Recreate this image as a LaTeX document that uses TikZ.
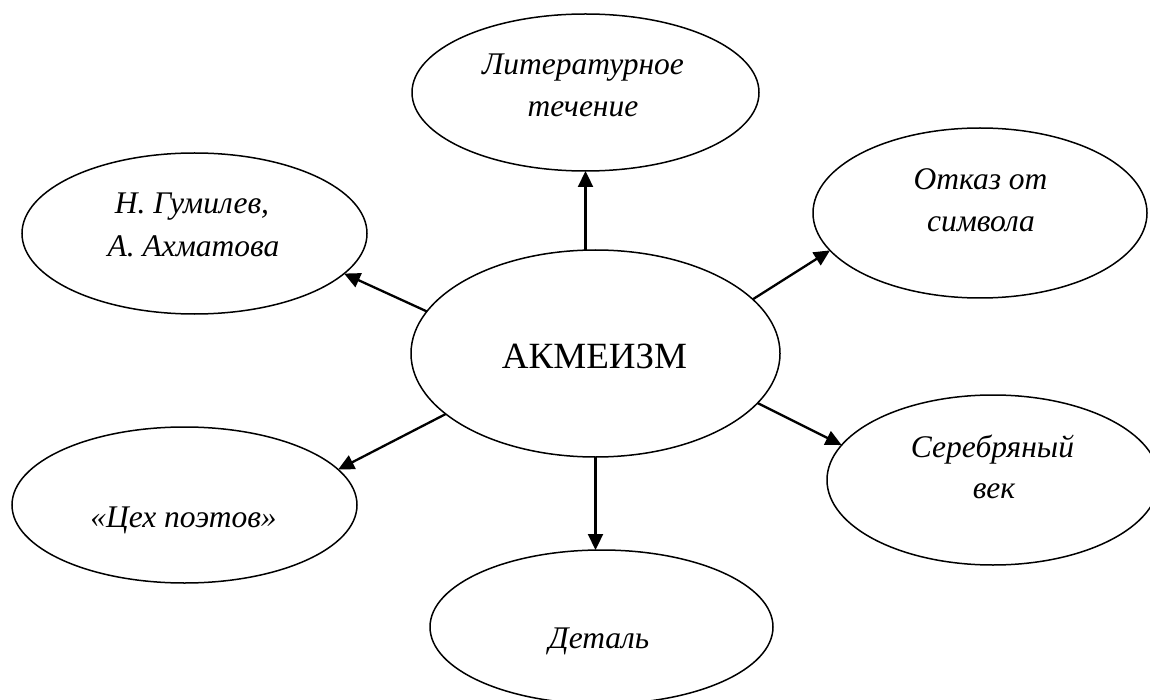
\documentclass[tikz,border=0pt]{standalone}
\usepackage{fontspec}
\setmainfont{Liberation Serif}
\usetikzlibrary{arrows.meta,shapes.geometric}
\tikzset{
  oval/.style={ellipse,draw,line width=1.5pt,inner sep=0pt,outer sep=0pt},
  lbl/.style={anchor=base,inner sep=0pt,font=\fontsize{31.5}{38}\selectfont\itshape},
  big/.style={anchor=base,inner sep=0pt,font=\fontsize{37}{44}\selectfont},
  arr/.style={line width=2.3pt,-{Triangle[length=16pt,width=15pt]}}
}
\begin{document}
\begin{tikzpicture}[x=1pt,y=-1pt]
\useasboundingbox (0,0) rectangle (1150,700);
\node[oval,minimum width=369pt,minimum height=207pt] (c) at (595.5,353.5) {};
\node[oval,minimum width=347pt,minimum height=157pt] (t) at (585.5,92.5) {};
\node[oval,minimum width=345pt,minimum height=161pt] (L) at (194.5,233.5) {};
\node[oval,minimum width=334pt,minimum height=170pt] (R) at (980,213) {};
\node[oval,minimum width=345pt,minimum height=156pt] (LL) at (184.5,505) {};
\node[oval,minimum width=332pt,minimum height=170pt] (LR) at (993,480) {};
\node[oval,minimum width=343pt,minimum height=154pt] (B) at (601.5,627) {};

\node[big] (ct) at (594.5,368) {АКМЕИЗМ};
\node[lbl] (t1) at (583,75) {Литературное};
\node[lbl] (t2) at (583,117) {течение};
\node[lbl] (l1) at (192,214) {Н. Гумилев,};
\node[lbl] (l2) at (193.5,257) {А. Ахматова};
\node[lbl] (r1) at (980.5,190) {Отказ от};
\node[lbl] (r2) at (981,232) {символа};
\node[lbl] (ll1) at (183.5,527) {«Цех поэтов»};
\node[lbl] (lr1) at (992.5,457) {Серебряный};
\node[lbl] (lr2) at (994,498) {век};
\node[lbl] (b1) at (599,648) {Деталь};

\draw[arr] (c.north -| t.south) -- (t.south);
\draw[arr] (c.166.9) -- (L.345.6);
\draw[arr] (c.19.85) -- (R.194.3);
\draw[arr] (c.202.2) -- (LL.13.7);
\draw[arr] (c.343.4) -- (LR.167.4);
\draw[arr] (c.south) -- (c.south |- B.north);
\end{tikzpicture}
\end{document}
